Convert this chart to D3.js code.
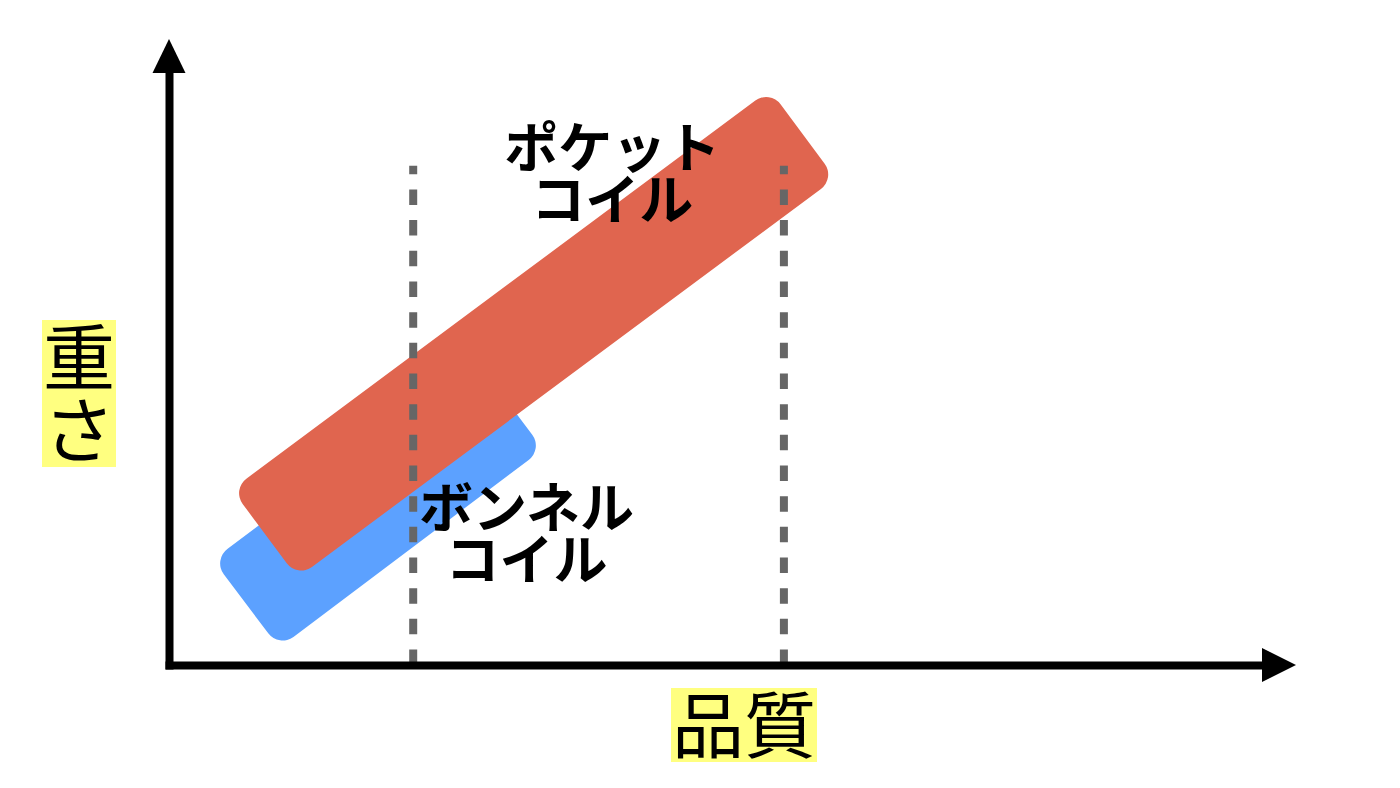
<!DOCTYPE html>
<html lang="ja">
<head>
<meta charset="utf-8">
<title>重さ × 品質</title>
<script src="https://cdn.jsdelivr.net/npm/d3@7"></script>
<style>
  html, body { margin: 0; padding: 0; background: #fff; }
  svg { display: block; }
  text { font-family: "Noto Sans CJK JP", "Noto Sans", sans-serif; fill: #000; }
</style>
</head>
<body>
<svg id="chart"></svg>
<script>
// ── データ（品質・重さ 0〜10 の相対値） ──
const bandNames       = ['ボンネルコイル', 'ポケットコイル'];
const bandQualityFrom = [0.70, 0.87];
const bandQualityTo   = [3.10, 5.76];
const bandWeightFrom  = [1.02, 2.19];
const bandWeightTo    = [4.33, 8.85];
const bandLabelLines  = [['ボンネル', 'コイル'], ['ポケット', 'コイル']];
const labelQuality    = [3.25, 4.03];
const labelWeight     = [2.62, 8.62];
const guideQuality    = [2.22, 5.59];
const guideWeightTop  = 8.32;
const axisTitles      = { x: '品質', y: '重さ' };

// ── 見た目 ──
const W = 1400, H = 788;
const BAND_COLORS = ['#5ca1ff', '#e0654f'];
const BAND_THICK  = 110;
const LABEL_SIZE  = 54;
const TITLE_SIZE  = 72;
const TITLE_BG    = '#ffff80';

const svg = d3.select('#chart').attr('width', W).attr('height', H);
svg.append('rect').attr('width', W).attr('height', H).attr('fill', '#fff');

const quality = d3.scaleLinear().domain([0, 10]).range([169, 1269]);
const weight  = d3.scaleLinear().domain([0, 10]).range([665, 65]);

// バンド（回転した角丸長方形）
const bands = bandNames.map((name, i) => {
  const x0 = quality(bandQualityFrom[i]), y0 = weight(bandWeightFrom[i]);
  const x1 = quality(bandQualityTo[i]),   y1 = weight(bandWeightTo[i]);
  return {
    name,
    cx: (x0 + x1) / 2, cy: (y0 + y1) / 2,
    len: Math.hypot(x1 - x0, y1 - y0),
    ang: Math.atan2(y1 - y0, x1 - x0) * 180 / Math.PI,
    color: BAND_COLORS[i]
  };
});

svg.append('g').attr('class', 'bands')
  .selectAll('rect').data(bands).enter().append('rect')
  .attr('x', d => -d.len / 2).attr('y', -BAND_THICK / 2)
  .attr('width', d => d.len).attr('height', BAND_THICK)
  .attr('rx', 18).attr('ry', 18)
  .attr('fill', d => d.color)
  .attr('transform', d => `translate(${d.cx},${d.cy}) rotate(${d.ang})`);

// 破線ガイド（下から上へ描く）
svg.append('g').attr('class', 'guides')
  .selectAll('line').data(guideQuality).enter().append('line')
  .attr('x1', d => quality(d)).attr('x2', d => quality(d))
  .attr('y1', weight(0)).attr('y2', weight(guideWeightTop))
  .attr('stroke', '#666').attr('stroke-width', 8)
  .attr('stroke-dasharray', '15.5 15.17');

// ラベル
const lineGap = 52;
const lbl = svg.append('g').attr('class', 'band-labels');
bandLabelLines.forEach((lines, i) => {
  const cx = quality(labelQuality[i]), cy = weight(labelWeight[i]);
  const t = lbl.append('text')
    .attr('text-anchor', 'middle')
    .attr('font-size', LABEL_SIZE)
    .attr('font-weight', 700);
  lines.forEach((s, k) => {
    t.append('tspan')
      .attr('x', cx)
      .attr('y', cy + k * lineGap + LABEL_SIZE * 0.38)
      .text(s);
  });
});

// 軸（目盛なし）
const axisStyle = g => {
  g.select('.domain').attr('stroke', '#000').attr('stroke-width', 8)
    .attr('stroke-linecap', 'square');
  g.selectAll('.tick').remove();
};
svg.append('g').attr('transform', `translate(0,${weight(0)})`)
  .call(d3.axisBottom(quality).tickValues([]).tickSizeOuter(0)).call(axisStyle);
svg.append('g').attr('transform', `translate(${quality(0)},0)`)
  .call(d3.axisLeft(weight).tickValues([]).tickSizeOuter(0)).call(axisStyle);

// 矢印
const xEnd = quality.range()[1], yEnd = weight.range()[1];
const ox = quality(0), oy = weight(0);
svg.append('path')
  .attr('d', `M${xEnd - 7},${oy - 17}L${xEnd + 27},${oy}L${xEnd - 7},${oy + 17}Z`)
  .attr('fill', '#000');
svg.append('path')
  .attr('d', `M${ox - 16.5},${yEnd + 8}L${ox},${yEnd - 26}L${ox + 16.5},${yEnd + 8}Z`)
  .attr('fill', '#000');

// 軸タイトル（黄色マーカー）
const xt = svg.append('g').attr('class', 'x-title');
xt.append('rect').attr('x', 671).attr('y', 688).attr('width', 146).attr('height', 74)
  .attr('fill', TITLE_BG);
xt.append('text').attr('x', 744).attr('y', 725 + TITLE_SIZE * 0.38)
  .attr('text-anchor', 'middle').attr('font-size', TITLE_SIZE)
  .text(axisTitles.x);

const yt = svg.append('g').attr('class', 'y-title');
yt.append('rect').attr('x', 42).attr('y', 320).attr('width', 74).attr('height', 147)
  .attr('fill', TITLE_BG);
Array.from(axisTitles.y).forEach((ch, k) => {
  yt.append('text').attr('x', 79).attr('y', 357 + k * 73 + TITLE_SIZE * 0.38)
    .attr('text-anchor', 'middle').attr('font-size', TITLE_SIZE)
    .text(ch);
});
</script>
</body>
</html>
